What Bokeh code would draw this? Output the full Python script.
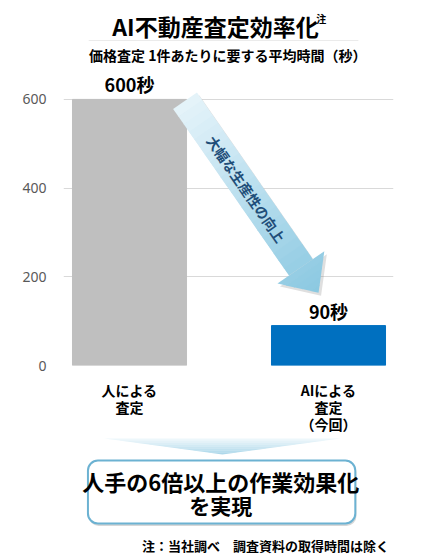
import math
from bokeh.plotting import figure
from bokeh.layouts import column
from bokeh.models import (Range1d, FixedTicker, ColumnDataSource, LabelSet, Label,
                          BoxAnnotation)
from bokeh.core.properties import value
from bokeh.embed import file_html
from bokeh.resources import INLINE

# ---------------- data ----------------
categories = ["人による\n査定", "AIによる\n査定\n（今回）"]
seconds = [600, 90]
value_labels = ["600秒", "90秒"]
bar_colors = ["#bfbfbf", "#0070c0"]
x_pos = [0, 1]
y_ticks = [0, 200, 400, 600]

title_text = "AI不動産査定効率化"
title_note = "注"
subtitle_text = "価格査定 1件あたりに要する平均時間（秒）"
arrow_text = "大幅な生産性の向上"
box_line1 = "人手の6倍以上の作業効果化"
box_line2 = "を実現"
footnote = "注：当社調べ　調査資料の取得時間は除く"

# ---------------- layout ----------------
FONT = "Noto Sans CJK JP"
W = 432
HA, HB, HC = 64, 372, 118          # header / chart / callout heights
BL, BR, BT, BB = 63, 39, 2, 70     # chart borders
X0, X1 = -0.3317, 1.3266
Y0, Y1 = 0.0, 674.2
FW = W - BL - BR
FH = HB - BT - BB


def lerp_color(c1, c2, t):
    a = [int(c1[i:i + 2], 16) for i in (1, 3, 5)]
    b = [int(c2[i:i + 2], 16) for i in (1, 3, 5)]
    return "#%02x%02x%02x" % tuple(round(a[k] + (b[k] - a[k]) * t) for k in range(3))


def plain(h, y_top):
    f = figure(width=W, height=h, output_backend="svg", toolbar_location=None,
               x_range=Range1d(0, W), y_range=Range1d(y_top + h, y_top),
               x_axis_type=None, y_axis_type=None, min_border=0,
               outline_line_color=None, background_fill_color="white",
               border_fill_color="white")
    f.grid.visible = False
    return f


# ================= header =================
pa = plain(HA, 0)
pa.add_layout(Label(x=199, y=25, text=title_text, text_align="center",
                    text_baseline="middle", text_font=FONT,
                    text_font_size="23px", text_font_style="bold",
                    text_color="black"))
pa.add_layout(Label(x=331, y=18, text=title_note,
                    text_align="left", text_baseline="middle", text_font=FONT,
                    text_font_size="10px", text_font_style="bold",
                    text_color="black"))
pa.line(x=[33, 386], y=[40, 40], line_color="#ebebeb", line_width=1)
pa.add_layout(Label(x=215, y=54, text=subtitle_text, text_align="center",
                    text_baseline="middle", text_font=FONT, text_font_size="14px",
                    text_font_style="bold", text_color="black"))

# ================= chart =================
p = figure(width=W, height=HB, output_backend="svg", toolbar_location=None,
           x_range=Range1d(X0, X1), y_range=Range1d(Y0, Y1),
           min_border_left=BL, min_border_right=BR, min_border_top=BT,
           min_border_bottom=BB, outline_line_color=None,
           background_fill_color="white", border_fill_color="white")

p.yaxis.ticker = FixedTicker(ticks=y_ticks)
p.ygrid.ticker = FixedTicker(ticks=y_ticks)
p.ygrid.grid_line_color = "#d9d9d9"
p.xgrid.grid_line_color = None
p.yaxis.axis_line_color = None
p.yaxis.major_tick_line_color = None
p.yaxis.minor_tick_line_color = None
p.yaxis.major_tick_out = 0
p.yaxis.major_tick_in = 0
p.yaxis.major_label_standoff = 17
p.yaxis.major_label_text_font = "Noto Sans"
p.yaxis.major_label_text_font_size = "14px"
p.yaxis.major_label_text_color = "#595959"

p.xaxis.ticker = FixedTicker(ticks=x_pos)
p.xaxis.major_label_overrides = {x: c for x, c in zip(x_pos, categories)}
p.xaxis.axis_line_color = None
p.xaxis.major_tick_line_color = None
p.xaxis.minor_tick_line_color = None
p.xaxis.major_tick_out = 0
p.xaxis.major_tick_in = 0
p.xaxis.major_label_standoff = 14
p.xaxis.major_label_text_font = FONT
p.xaxis.major_label_text_font_size = "14px"
p.xaxis.major_label_text_font_style = "bold"
p.xaxis.major_label_text_color = "black"
p.xaxis.major_label_text_line_height = 0.85

src = ColumnDataSource(dict(x=x_pos, top=seconds, color=bar_colors, label=value_labels))
p.vbar(x="x", top="top", width=0.573, color="color", source=src)

p.add_layout(LabelSet(x="x", y="top", text="label", source=src, y_offset=7,
                      text_align="center", text_baseline="alphabetic",
                      text_font=value(FONT), text_font_size="18px",
                      text_font_style="bold", text_color="black"))

# chart pixel helpers (page coords)
OY = HA


def dx(px):
    return X0 + (px - BL) / FW * (X1 - X0)


def dy(py):
    return Y0 + (OY + BT + FH - py) / FH * (Y1 - Y0)


def sx(x):
    return BL + (x - X0) / (X1 - X0) * FW


def sy(y):
    return OY + BT + (Y1 - y) / (Y1 - Y0) * FH


# diagonal arrow
A_FROM = (0.279, 597.0)
A_TO = (0.950, 164.0)
Sx, Sy = sx(A_FROM[0]), sy(A_FROM[1])
Tx, Ty = sx(A_TO[0]), sy(A_TO[1])
L = math.hypot(Tx - Sx, Ty - Sy)
ux, uy = (Tx - Sx) / L, (Ty - Sy) / L
nx, ny = uy, -ux
HEAD_L, SHAFT_W, HEAD_W = 31.0, 14.5, 28.5
Ls = L - HEAD_L


def pt(s, w, ox=0.0, oy=0.0):
    return (dx(Sx + s * ux + w * nx + ox), dy(Sy + s * uy + w * ny + oy))


def arrow_outline(ox=0.0, oy=0.0):
    pts = [pt(0, SHAFT_W, ox, oy), pt(Ls, SHAFT_W, ox, oy), pt(Ls, HEAD_W, ox, oy),
           pt(L, 0, ox, oy), pt(Ls, -HEAD_W, ox, oy), pt(Ls, -SHAFT_W, ox, oy),
           pt(0, -SHAFT_W, ox, oy)]
    return [q[0] for q in pts], [q[1] for q in pts]


shx, shy = arrow_outline(2.5, 3.0)
p.patch(shx, shy, fill_color="#7f7f7f", fill_alpha=0.25, line_color=None)

c_top, c_bot = "#e6f4fa", "#8ac8e1"
xs_list, ys_list, cols = [], [], []
N1 = 22
for i in range(N1):
    s0 = Ls * i / N1
    s1 = min(Ls * (i + 1) / N1 + 0.6, Ls)
    q = [pt(s0, SHAFT_W), pt(s1, SHAFT_W), pt(s1, -SHAFT_W), pt(s0, -SHAFT_W)]
    xs_list.append([a[0] for a in q]); ys_list.append([a[1] for a in q])
    cols.append(lerp_color(c_top, c_bot, (s0 + s1) / 2 / L))
N2 = 5
for i in range(N2):
    s0 = Ls + HEAD_L * i / N2
    s1 = min(Ls + HEAD_L * (i + 1) / N2 + 0.6, L)
    w0 = HEAD_W * (L - s0) / HEAD_L
    w1 = HEAD_W * (L - s1) / HEAD_L
    q = [pt(s0, w0), pt(s1, w1), pt(s1, -w1), pt(s0, -w0)]
    xs_list.append([a[0] for a in q]); ys_list.append([a[1] for a in q])
    cols.append(lerp_color(c_top, c_bot, (s0 + s1) / 2 / L))
p.patches(xs_list, ys_list, fill_color=cols, line_color=None)

ang = -math.atan2(Ty - Sy, Tx - Sx)
cxp, cyp = Sx + 0.46 * L * ux, Sy + 0.46 * L * uy
p.text(x=[dx(cxp)], y=[dy(cyp)], text=[arrow_text], angle=ang,
       text_font=value(FONT), text_font_size="14px", text_font_style="bold",
       text_color="#1f4e79", text_align="center", text_baseline="middle")

# ================= callout =================
TOPC = HA + HB
pc = plain(HC, TOPC)
TRI_L, TRI_R, TRI_TOP, TRI_APEX_X, TRI_APEX_Y = 53, 363, 438, 208, 454
NB = 8
txs, tys, tcols = [], [], []
for i in range(NB):
    t0, t1 = i / NB, (i + 1) / NB
    y0 = TRI_TOP + (TRI_APEX_Y - TRI_TOP) * t0
    y1 = TRI_TOP + (TRI_APEX_Y - TRI_TOP) * min(t1 + 0.02, 1)
    l0 = TRI_L + (TRI_APEX_X - TRI_L) * t0
    l1 = TRI_L + (TRI_APEX_X - TRI_L) * min(t1 + 0.02, 1)
    r0 = TRI_R + (TRI_APEX_X - TRI_R) * t0
    r1 = TRI_R + (TRI_APEX_X - TRI_R) * min(t1 + 0.02, 1)
    txs.append([l0, r0, r1, l1]); tys.append([y0, y0, y1, y1])
    tcols.append(lerp_color("#f2f9fc", "#a9d6e9", (t0 + t1) / 2))
pc.patches(txs, tys, fill_color=tcols, line_color=None)

pc.add_layout(BoxAnnotation(left=33, right=383.5, top=462, bottom=525.5,
                            fill_color="#9a9a9a", fill_alpha=0.4, line_color=None,
                            border_radius=10))
pc.add_layout(BoxAnnotation(left=32, right=382, top=460, bottom=523,
                            fill_color="white", fill_alpha=1, line_color="#6cb2d2",
                            line_width=2, line_alpha=1, border_radius=10))
pc.add_layout(Label(x=206, y=480, text=box_line1, text_align="center",
                    text_baseline="middle", text_font=FONT, text_font_size="22px",
                    text_font_style="bold", text_color="black"))
pc.add_layout(Label(x=206, y=504, text=box_line2, text_align="center",
                    text_baseline="middle", text_font=FONT, text_font_size="21px",
                    text_font_style="bold", text_color="black"))
pc.add_layout(Label(x=426, y=545, text=footnote, text_align="right",
                    text_baseline="middle", text_font=FONT, text_font_size="13px",
                    text_font_style="bold", text_color="black"))

layout = column(pa, p, pc, spacing=0)
open("out.html", "w").write(file_html(layout, INLINE))
